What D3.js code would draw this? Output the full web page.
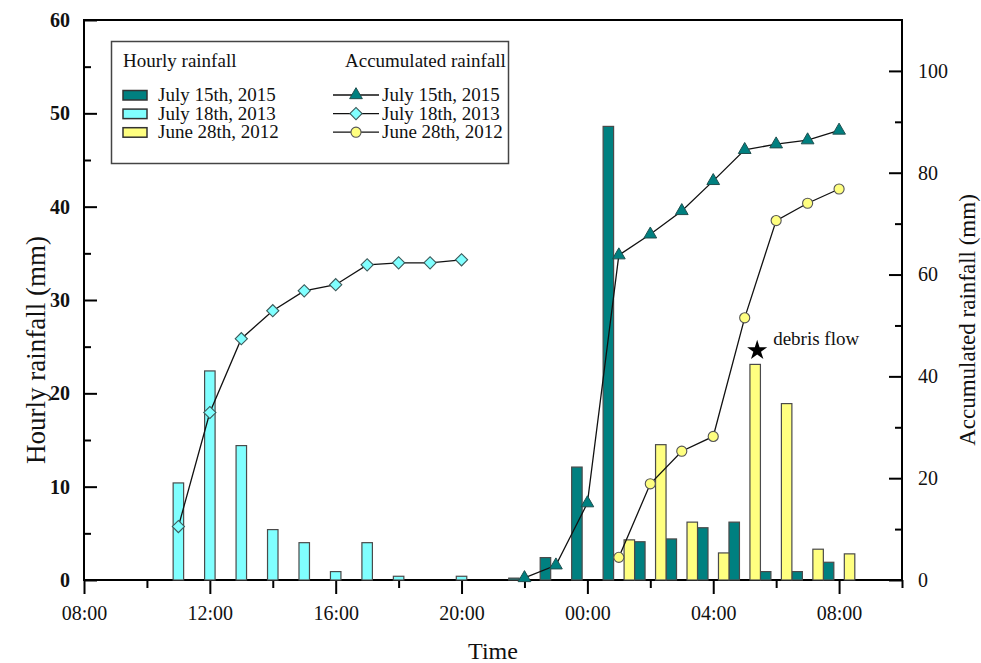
<!DOCTYPE html>
<html>
<head>
<meta charset="utf-8">
<script src="https://cdn.jsdelivr.net/npm/d3@7"></script>
<style>
  html, body { margin: 0; padding: 0; background: #ffffff; }
  svg { display: block; }
  text { font-family: "Liberation Serif", "Times New Roman", serif; fill: #111; }
</style>
</head>
<body>
<svg id="chart" width="981" height="663"></svg>
<script>
// ---------------- DATA (hours counted from 08:00 of the first day) ----------------
const xTickHours = [0, 4, 8, 12, 16, 20, 24];
const xTickLabels = ["08:00", "12:00", "16:00", "20:00", "00:00", "04:00", "08:00"];

const seriesNames = ["July 15th, 2015", "July 18th, 2013", "June 28th, 2012"];

// July 18th, 2013 (11:00 – 20:00)
const time2013 = [3, 4, 5, 6, 7, 8, 9, 10, 11, 12];
const hourly2013 = [10.4, 22.4, 14.4, 5.4, 4.0, 0.9, 4.0, 0.4, 0, 0.4];
const accum2013 = [10.5, 32.9, 47.4, 52.9, 56.8, 58.0, 61.9, 62.3, 62.3, 62.9];

// July 15th, 2015 (22:00 – 08:00)
const time2015 = [14, 15, 16, 17, 18, 19, 20, 21, 22, 23, 24];
const hourly2015 = [0.2, 2.4, 12.1, 48.6, 4.1, 4.4, 5.6, 6.2, 0.9, 0.9, 1.9];
const accum2015 = [0.4, 2.9, 15.1, 63.8, 67.9, 72.5, 78.4, 84.5, 85.6, 86.4, 88.3];

// June 28th, 2012 (01:00 – 08:00)
const time2012 = [17, 18, 19, 20, 21, 22, 23, 24];
const hourly2012 = [4.3, 14.5, 6.2, 2.9, 23.1, 18.9, 3.3, 2.8];
const accum2012 = [4.45, 18.9, 25.3, 28.2, 51.5, 70.6, 74.0, 76.8];

// debris-flow annotation (at 05:00, June 28th 2012 bar)
const debrisHour = 21;
const debrisValue = 24.6;
const debrisLabel = "debris flow";

// ---------------- LAYOUT ----------------
const svg = d3.select("#chart");
const L = 84, R = 902, T = 20, B = 580;
const colors = { "2015": "#008080", "2013": "#80ffff", "2012": "#ffff80" };
const keys = ["2015", "2013", "2012"];

const x = d3.scaleLinear().domain([0, 26]).range([L, R]);
const yL = d3.scaleLinear().domain([0, 60]).range([B, T]);
const yR = d3.scaleLinear().domain([0, 110]).range([B, T]);
const hourW = x(1) - x(0);
const sub = d3.scaleBand().domain(keys).range([-hourW / 2, hourW / 2]).padding(0);

// frame
svg.append("rect").attr("x", L).attr("y", T).attr("width", R - L).attr("height", B - T)
  .attr("fill", "none").attr("stroke", "#000").attr("stroke-width", 2);

// axes
const fmtX = d => { const i = xTickHours.indexOf(d); return i >= 0 ? xTickLabels[i] : ""; };
const xMinor = d3.range(0, 27, 2).filter(h => !xTickHours.includes(h));
const gx = svg.append("g").attr("transform", `translate(0,${B})`);
gx.call(d3.axisBottom(x).tickValues(xTickHours).tickFormat(fmtX).tickSize(14).tickPadding(12));
gx.append("g").call(d3.axisBottom(x).tickValues(xMinor).tickFormat("").tickSize(8));

const gl = svg.append("g").attr("transform", `translate(${L},0)`);
gl.call(d3.axisLeft(yL).tickValues(d3.range(0, 61, 10)).tickFormat(d3.format("d")).tickSize(-13).tickPadding(14));
gl.append("g").call(d3.axisLeft(yL).tickValues(d3.range(5, 60, 10)).tickFormat("").tickSize(-7));

const gr = svg.append("g").attr("transform", `translate(${R},0)`);
gr.call(d3.axisRight(yR).tickValues(d3.range(0, 101, 20)).tickFormat(d3.format("d")).tickSize(-13).tickPadding(16));
gr.append("g").call(d3.axisRight(yR).tickValues(d3.range(10, 110, 20)).tickFormat("").tickSize(-7));

svg.selectAll(".domain").remove();
svg.selectAll(".tick line").attr("stroke", "#000").attr("stroke-width", 2);
gx.selectAll("text").attr("font-size", 20).attr("fill", "#111");
gl.selectAll("text").attr("font-size", 20).attr("font-weight", "bold").attr("fill", "#111");
gr.selectAll("text").attr("font-size", 20).attr("fill", "#111");
svg.selectAll(".tick text").style("font-family", "'Liberation Serif', 'Times New Roman', serif");

// axis titles
svg.append("text").attr("transform", `translate(45,${(T + B) / 2 + 50}) rotate(-90)`)
  .attr("text-anchor", "middle").attr("font-size", 27).text("Hourly rainfall (mm)");
svg.append("text").attr("transform", `translate(975,${(T + B) / 2 + 20}) rotate(-90)`)
  .attr("text-anchor", "middle").attr("font-size", 23).text("Accumulated rainfall (mm)");
svg.append("text").attr("x", (L + R) / 2).attr("y", 659).attr("text-anchor", "middle")
  .attr("font-size", 24).text("Time");

// ---------------- BARS ----------------
const barSets = [
  { key: "2015", t: time2015, v: hourly2015 },
  { key: "2013", t: time2013, v: hourly2013 },
  { key: "2012", t: time2012, v: hourly2012 }
];
const gBars = svg.append("g");
barSets.forEach(s => {
  const data = s.t.map((t, i) => ({ t, v: s.v[i] })).filter(d => d.v > 0);
  gBars.selectAll(null).data(data).enter().append("rect")
    .attr("x", d => x(d.t) + sub(s.key))
    .attr("y", d => yL(d.v))
    .attr("width", sub.bandwidth())
    .attr("height", d => yL(0) - yL(d.v))
    .attr("fill", colors[s.key])
    .attr("stroke", "#4a4a4a").attr("stroke-width", 1.2);
});

// ---------------- LINES ----------------
const lineSets = [
  { key: "2013", t: time2013, v: accum2013, sym: "diamond" },
  { key: "2012", t: time2012, v: accum2012, sym: "circle" },
  { key: "2015", t: time2015, v: accum2015, sym: "triangle" }
];
const line = d3.line().x(d => x(d.t)).y(d => yR(d.v));
function drawSymbol(g, type, key) {
  if (type === "triangle") {
    return g.append("path").attr("d", d3.symbol(d3.symbolTriangle, 70)())
      .attr("fill", colors[key]).attr("stroke", "#1f4f4f").attr("stroke-width", 1);
  } else if (type === "diamond") {
    return g.append("path").attr("d", d3.symbol(d3.symbolSquare, 74)()).attr("transform", "rotate(45)")
      .attr("fill", colors[key]).attr("stroke", "#3c5a5a").attr("stroke-width", 1.1);
  } else {
    return g.append("path").attr("d", d3.symbol(d3.symbolCircle, 80)())
      .attr("fill", colors[key]).attr("stroke", "#555").attr("stroke-width", 1.1);
  }
}
lineSets.forEach(s => {
  const data = s.t.map((t, i) => ({ t, v: s.v[i] }));
  svg.append("path").datum(data).attr("d", line)
    .attr("fill", "none").attr("stroke", "#111").attr("stroke-width", 1.3);
  data.forEach(d => {
    const g = svg.append("g").attr("transform", `translate(${x(d.t)},${yR(d.v)})`);
    drawSymbol(g, s.sym, s.key);
  });
});

// debris flow annotation
const sx = x(debrisHour) + sub("2012") + sub.bandwidth() / 2 + 2;
const sy = yL(debrisValue);
svg.append("path").attr("d", d3.symbol(d3.symbolStar, 125)())
  .attr("transform", `translate(${sx},${sy})`).attr("fill", "#000");
svg.append("text").attr("x", sx + 16).attr("y", sy - 5).attr("font-size", 19).text(debrisLabel);

// ---------------- LEGEND ----------------
const lg = svg.append("g");
lg.append("rect").attr("x", 111.5).attr("y", 41.5).attr("width", 397).attr("height", 122)
  .attr("fill", "#fff").attr("stroke", "#444").attr("stroke-width", 1.5);
lg.append("text").attr("x", 123).attr("y", 67).attr("font-size", 19).text("Hourly rainfall");
lg.append("text").attr("x", 345).attr("y", 67).attr("font-size", 19).text("Accumulated rainfall");
const symByKey = { "2015": "triangle", "2013": "diamond", "2012": "circle" };
keys.forEach((k, i) => {
  const base = 101 + i * 18.6;
  lg.append("rect").attr("x", 123).attr("y", base - 10.5).attr("width", 24).attr("height", 9.5)
    .attr("fill", colors[k]).attr("stroke", "#333").attr("stroke-width", 1.5);
  lg.append("text").attr("x", 158).attr("y", base).attr("font-size", 19).text(seriesNames[i]);
  lg.append("line").attr("x1", 333).attr("x2", 379).attr("y1", base - 6).attr("y2", base - 6)
    .attr("stroke", "#111").attr("stroke-width", 1.3);
  const g = lg.append("g").attr("transform", `translate(356,${base - 6})`);
  drawSymbol(g, symByKey[k], k);
  lg.append("text").attr("x", 382).attr("y", base).attr("font-size", 19).text(seriesNames[i]);
});
</script>
</body>
</html>
